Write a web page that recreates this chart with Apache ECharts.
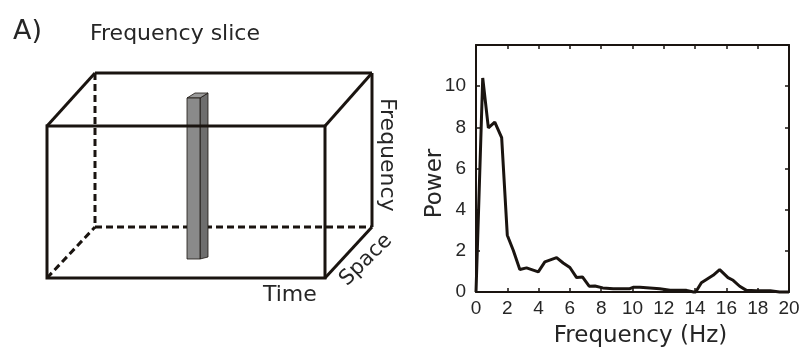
<!DOCTYPE html>
<html><head><meta charset="utf-8">
<script src="https://cdn.jsdelivr.net/npm/echarts@6/dist/echarts.min.js"></script>
<style>html,body{margin:0;padding:0;background:#fff}#c{width:801px;height:349px}</style>
</head><body><div id="c"></div>
<script>
const freqHz = [0,0.43,0.79,1.2,1.64,2.0,2.38,2.8,3.23,3.98,4.4,5.15,5.57,6.0,6.43,6.8,7.23,7.6,8.1,8.77,9.83,10.04,10.47,11.74,12.4,13.45,13.9,14.04,14.4,15.15,15.57,16.1,16.43,16.85,17.28,17.9,18.8,19.4,20];
const power  = [0,10.4,7.97,8.25,7.5,2.76,2.03,1.09,1.17,0.98,1.46,1.67,1.41,1.19,0.7,0.73,0.28,0.29,0.2,0.16,0.16,0.23,0.23,0.16,0.08,0.08,0,0,0.45,0.81,1.09,0.7,0.57,0.28,0.08,0.06,0.06,0,0];
const xTicks = [0,2,4,6,8,10,12,14,16,18,20];
const yTicks = [0,2,4,6,8,10];

const font = '"DejaVu Sans", sans-serif';
const tickFont = '"Liberation Sans", sans-serif';
const ink = '#1a1410';
const txt = '#262626';
const chart = echarts.init(document.getElementById('c'));
const L = (x1,y1,x2,y2,dash)=>({type:'line',shape:{x1,y1,x2,y2},style:{stroke:ink,lineWidth:3,lineDash:dash?[7,4]:null}});
const pts = freqHz.map((f,i)=>[f,power[i]]);
const axisCommon = {
  axisLine:{show:true,onZero:false,lineStyle:{color:ink,width:2}},
  axisTick:{show:true,inside:true,length:4,lineStyle:{color:ink,width:1.5}},
  splitLine:{show:false}
};
chart.setOption({
  animation:false,
  backgroundColor:'#fff',
  grid:{left:476,right:12,top:45,bottom:57,containLabel:false,outerBoundsMode:'none'},
  xAxis:[Object.assign({type:'value',min:0,max:20,interval:2,position:'bottom',
    axisLabel:{color:txt,fontFamily:tickFont,fontSize:19,margin:7,formatter:v=>xTicks.includes(v)?String(v):''},
    name:'Frequency (Hz)',nameLocation:'middle',nameGap:33,nameMoveOverlap:false,nameTextStyle:{color:txt,fontFamily:font,fontSize:23,padding:[0,0,0,16]}},axisCommon),
   Object.assign({type:'value',min:0,max:20,interval:2,position:'top',axisLabel:{show:false}},axisCommon)],
  yAxis:[Object.assign({type:'value',min:0,max:12,interval:2,position:'left',
    axisLabel:{color:txt,fontFamily:tickFont,fontSize:19,margin:10,formatter:v=>yTicks.includes(v)?String(v):''},
    name:'Power',nameLocation:'middle',nameGap:29,nameMoveOverlap:false,nameTextStyle:{color:txt,fontFamily:font,fontSize:23,padding:[0,30,0,0]}},axisCommon),
   Object.assign({type:'value',min:0,max:12,interval:2,position:'right',axisLabel:{show:false}},axisCommon)],
  series:[
    {type:'line',data:pts,xAxisIndex:0,yAxisIndex:0,showSymbol:false,symbol:'none',lineStyle:{color:ink,width:3},clip:false,z:5},
    {type:'line',data:pts,xAxisIndex:1,yAxisIndex:1,showSymbol:false,symbol:'none',lineStyle:{color:ink,width:3,opacity:0},silent:true}
  ],
  graphic:[
    {type:'text',x:13,y:32,style:{text:'A)',font:'27px '+font,fill:txt,verticalAlign:'middle'}},
    {type:'text',x:90,y:34,style:{text:'Frequency slice',font:'22px '+font,fill:txt,verticalAlign:'middle'}},
    // dashed hidden edges
    L(95,73,95,227,true), L(95,227,372,227,true), L(47,278,95,227,true),
    // gray bar
    {type:'polygon',shape:{points:[[200,98],[208,93],[208,257],[200,259]]},style:{fill:'#6e6e6e',stroke:ink,lineWidth:0.8}},
    {type:'polygon',shape:{points:[[187,98],[195,93],[208,93],[200,98]]},style:{fill:'#9a9a9a',stroke:ink,lineWidth:0.8}},
    {type:'rect',shape:{x:187,y:98,width:13,height:161},style:{fill:'#8a8a8a',stroke:ink,lineWidth:0.8}},
    // solid edges
    L(95,73,372,73), L(47,126,95,73), L(325,126,372,73), L(372,73,372,227), L(325,278,372,227),
    {type:'rect',shape:{x:47,y:126,width:278,height:152},style:{fill:null,stroke:ink,lineWidth:3}},
    {type:'text',x:263,y:295,style:{text:'Time',font:'22px '+font,fill:txt,verticalAlign:'middle'}},
    {type:'text',x:387,y:98,rotation:-Math.PI/2,style:{text:'Frequency',font:'22px '+font,fill:txt,verticalAlign:'middle'}},
    {type:'text',x:366,y:260,rotation:0.78,style:{text:'Space',font:'21px '+font,fill:txt,align:'center',verticalAlign:'middle'}}
  ]
});
</script></body></html>
